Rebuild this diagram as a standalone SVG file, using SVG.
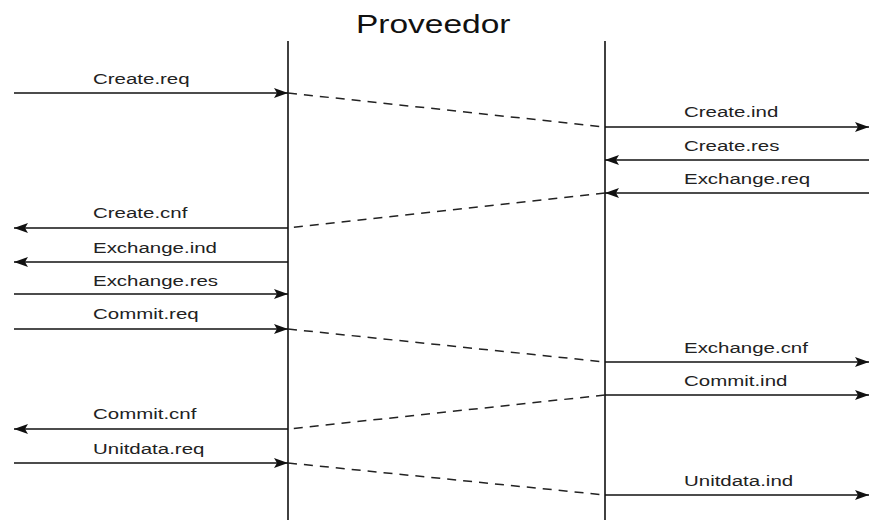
<svg xmlns="http://www.w3.org/2000/svg" width="870" height="520" viewBox="0 0 870 520">
<defs>
<marker id="ah" markerUnits="userSpaceOnUse" markerWidth="16" markerHeight="12" refX="14" refY="5" orient="auto">
<path d="M0,0 L14,5 L0,10 L3,5 Z" fill="#111"/>
</marker>
</defs>
<style>
.lbl{font-family:"Liberation Sans",Arial,sans-serif;font-size:15.5px;fill:#222}
.ttl{font-family:"Liberation Sans",Arial,sans-serif;font-size:25px;fill:#111}
.life{stroke:#111;stroke-width:1.6;fill:none}
.msg{stroke:#111;stroke-width:1.6;fill:none;marker-end:url(#ah)}
.dash{stroke:#222;stroke-width:1.5;fill:none;stroke-dasharray:9 7}
</style>
<rect width="870" height="520" fill="#fff"/>
<g id="title"><text class="ttl" transform="translate(356,33) scale(1.34,1)">Proveedor</text></g>
<g id="lifeline-left"><line class="life" x1="288" y1="41" x2="288" y2="520"/></g>
<g id="lifeline-right"><line class="life" x1="605" y1="41" x2="605" y2="520"/></g>
<g id="connectors">
<line class="msg" x1="14" y1="93" x2="288" y2="93"/>
<line class="msg" x1="288" y1="228" x2="14" y2="228"/>
<line class="msg" x1="288" y1="262" x2="14" y2="262"/>
<line class="msg" x1="14" y1="294" x2="288" y2="294"/>
<line class="msg" x1="14" y1="329" x2="288" y2="329"/>
<line class="msg" x1="288" y1="429" x2="14" y2="429"/>
<line class="msg" x1="14" y1="463" x2="288" y2="463"/>
<line class="msg" x1="605" y1="127" x2="869" y2="127"/>
<line class="msg" x1="869" y1="160" x2="605" y2="160"/>
<line class="msg" x1="869" y1="193" x2="605" y2="193"/>
<line class="msg" x1="605" y1="362" x2="869" y2="362"/>
<line class="msg" x1="605" y1="395" x2="869" y2="395"/>
<line class="msg" x1="605" y1="495" x2="869" y2="495"/>
<line class="dash" x1="288" y1="93" x2="605" y2="127"/>
<line class="dash" x1="605" y1="193" x2="288" y2="228"/>
<line class="dash" x1="288" y1="329" x2="605" y2="362"/>
<line class="dash" x1="605" y1="395" x2="288" y2="429"/>
<line class="dash" x1="288" y1="463" x2="605" y2="495"/>
</g>
<g id="labels">
<text class="lbl" transform="translate(93,84) scale(1.32,1)">Create.req</text>
<text class="lbl" transform="translate(93,218) scale(1.32,1)">Create.cnf</text>
<text class="lbl" transform="translate(93,253) scale(1.32,1)">Exchange.ind</text>
<text class="lbl" transform="translate(93,286) scale(1.32,1)">Exchange.res</text>
<text class="lbl" transform="translate(93,319) scale(1.32,1)">Commit.req</text>
<text class="lbl" transform="translate(93,419) scale(1.32,1)">Commit.cnf</text>
<text class="lbl" transform="translate(93,454) scale(1.32,1)">Unitdata.req</text>
<text class="lbl" transform="translate(684,117) scale(1.32,1)">Create.ind</text>
<text class="lbl" transform="translate(684,151) scale(1.32,1)">Create.res</text>
<text class="lbl" transform="translate(684,184) scale(1.32,1)">Exchange.req</text>
<text class="lbl" transform="translate(684,353) scale(1.32,1)">Exchange.cnf</text>
<text class="lbl" transform="translate(684,386) scale(1.32,1)">Commit.ind</text>
<text class="lbl" transform="translate(684,486) scale(1.32,1)">Unitdata.ind</text>
</g>
</svg>
